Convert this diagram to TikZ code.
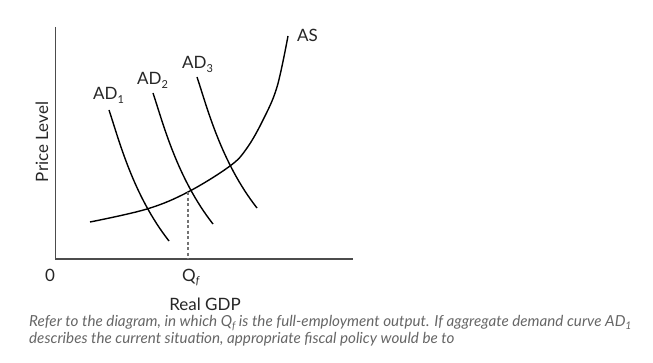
\documentclass[tikz,border=0pt]{standalone}
\usepackage{fontspec}
\setmainfont{Lato}
\newcommand{\sbs}[1]{\raisebox{-0.4ex}{\fontsize{11}{11}\selectfont #1}}
\newcommand{\csbs}[1]{\raisebox{-0.4ex}{\fontsize{10.5}{10.5}\selectfont #1}}
\begin{document}
\begin{tikzpicture}[x=1pt,y=1pt,
  curve/.style={line width=1.4pt, black},
  axisline/.style={line width=1.2pt, black!70},
  lbl/.style={font=\fontsize{17}{20}\selectfont, inner sep=0pt, text=black!85},
  captext/.style={font=\itshape\fontsize{15.2}{18}\selectfont, text=black!60, inner sep=0pt, anchor=base west}]
\useasboundingbox (0,0) rectangle (653,362);
% axes
\coordinate (O) at (55.5,103);
\coordinate (ytop) at (55.5,335);
\coordinate (xend) at (353,103);
\draw[axisline] (ytop) -- (O) -- (xend);
% AD curves
\draw[curve] (109,252) .. controls (119,222) and (133,167) .. (169,121);
\draw[curve] (153,269) .. controls (163,239) and (177,184) .. (213,138);
\draw[curve] (197,285) .. controls (207,255) and (221,200) .. (257,154);
% AS curve
\draw[curve] plot[smooth, tension=0.6] coordinates {(90,140) (147,153) (188,170) (230,196) (247,214) (263,242) (277,275) (288,326)};
% full-employment output
\coordinate (Qpt) at (188,170);
\coordinate (Qbase) at (188,103);
\draw[line width=1.1pt, black!55, dash pattern=on 3pt off 2.5pt] (Qpt) -- (Qbase);
% labels
\node[lbl, anchor=base west] (ad1) at (93,262) {AD\sbs{1}};
\node[lbl, anchor=base west] (ad2) at (137,277) {AD\sbs{2}};
\node[lbl, anchor=base west] (ad3) at (182,293) {AD\sbs{3}};
\node[lbl, anchor=base west] (as) at (297,320) {AS};
\node[lbl, rotate=90] (pl) at (42,220) {Price Level};
\node[lbl] (zero) at (50,87) {0};
\node[lbl, anchor=base west] (qf) at (182,81) {Q\sbs{\itshape f}};
\node[lbl, anchor=base] (rgdp) at (205,52) {Real GDP};
\node[captext] (c1) at (29,36) {Refer to the diagram, in which Q\csbs{f} is the full-employment output. If aggregate demand curve AD\csbs{1}};
\node[captext] (c2) at (29,19) {describes the current situation, appropriate fiscal policy would be to};
\end{tikzpicture}
\end{document}
